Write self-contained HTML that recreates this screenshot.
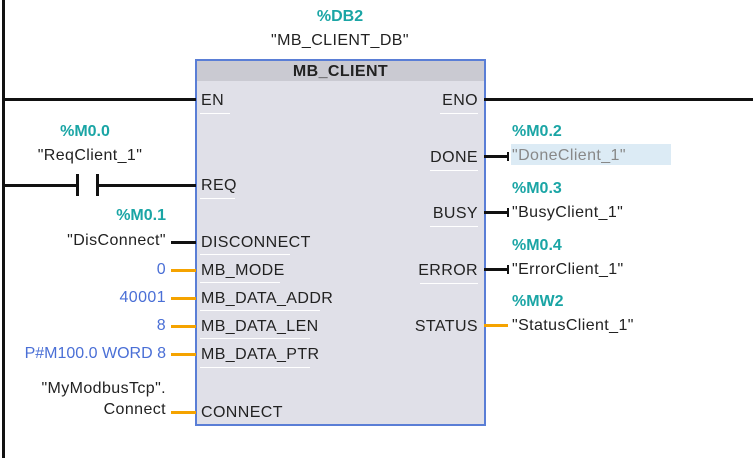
<!DOCTYPE html>
<html><head><style>
body{margin:0;width:753px;height:458px;background:#fff;position:relative;overflow:hidden;font-family:"Liberation Sans",sans-serif;font-size:16px;letter-spacing:0.4px;color:#222}
.a{position:absolute;white-space:nowrap;line-height:16px}
.t{color:#1aa5a5;font-weight:bold;letter-spacing:0}
.b{color:#4a6fd6}
.r{text-align:right}
.h{position:absolute;height:3px;background:#111}
.o{position:absolute;height:3px;background:#f5a300}
.u{position:absolute;height:1px;background:#fff}
</style></head><body>
<div style="position:absolute;left:2px;top:0;width:3px;height:458px;background:#111"></div>
<div style="position:absolute;left:195px;top:59px;width:287px;height:363px;border:2px solid #5a7ed6;background:#e0e0e8"></div>
<div style="position:absolute;left:197px;top:61px;width:287px;height:20px;background:#cacad2"></div>
<div class="a" style="left:197px;top:64px;width:287px;text-align:center;font-weight:bold">MB_CLIENT</div>
<div class="a t" style="left:300px;top:9px;width:80px;text-align:center">%DB2</div>
<div class="a" style="left:250px;top:33px;width:180px;text-align:center">"MB_CLIENT_DB"</div>
<div class="h" style="left:2px;top:98px;width:194px"></div>
<div class="h" style="left:484px;top:98px;width:269px"></div>
<div class="h" style="left:2px;top:184px;width:74px"></div>
<div style="position:absolute;left:76px;top:174px;width:3px;height:22px;background:#111"></div>
<div style="position:absolute;left:96px;top:174px;width:3px;height:22px;background:#111"></div>
<div class="h" style="left:96px;top:184px;width:100px"></div>
<div class="a t" style="left:40px;top:124px;width:90px;text-align:center">%M0.0</div>
<div class="a" style="left:10px;top:148px;width:160px;text-align:center">"ReqClient_1"</div>
<div class="a" style="left:201px;top:93px">EN</div>
<div class="a" style="left:201px;top:178px">REQ</div>
<div class="a" style="left:201px;top:235px">DISCONNECT</div>
<div class="a" style="left:201px;top:263px">MB_MODE</div>
<div class="a" style="left:201px;top:291px">MB_DATA_ADDR</div>
<div class="a" style="left:201px;top:319px">MB_DATA_LEN</div>
<div class="a" style="left:201px;top:347px">MB_DATA_PTR</div>
<div class="a" style="left:201px;top:405px">CONNECT</div>
<div class="u" style="left:200px;top:113px;width:30px"></div>
<div class="u" style="left:200px;top:198px;width:35px"></div>
<div class="u" style="left:200px;top:254px;width:90px"></div>
<div class="u" style="left:200px;top:282px;width:80px"></div>
<div class="u" style="left:200px;top:310px;width:120px"></div>
<div class="u" style="left:200px;top:338px;width:110px"></div>
<div class="u" style="left:200px;top:367px;width:110px"></div>
<div class="h" style="left:171px;top:241px;width:25px"></div>
<div class="o" style="left:171px;top:269px;width:25px"></div>
<div class="o" style="left:171px;top:297px;width:25px"></div>
<div class="o" style="left:171px;top:325px;width:25px"></div>
<div class="o" style="left:171px;top:353px;width:25px"></div>
<div class="o" style="left:171px;top:411px;width:25px"></div>
<div class="a t r" style="left:60px;top:208px;width:106px">%M0.1</div>
<div class="a r" style="left:0px;top:233px;width:166px">"DisConnect"</div>
<div class="a b r" style="left:60px;top:262px;width:106px">0</div>
<div class="a b r" style="left:60px;top:290px;width:106px">40001</div>
<div class="a b r" style="left:60px;top:318px;width:106px">8</div>
<div class="a b r" style="left:0px;top:346px;width:166px;letter-spacing:0">P#M100.0 WORD 8</div>
<div class="a r" style="left:0px;top:381px;width:166px">"MyModbusTcp".</div>
<div class="a r" style="left:0px;top:402px;width:166px">Connect</div>
<div class="a r" style="left:380px;top:93px;width:98px">ENO</div>
<div class="a r" style="left:380px;top:150px;width:98px">DONE</div>
<div class="a r" style="left:380px;top:206px;width:98px">BUSY</div>
<div class="a r" style="left:380px;top:263px;width:98px">ERROR</div>
<div class="a r" style="left:370px;top:319px;width:108px">STATUS</div>
<div class="u" style="left:440px;top:113px;width:38px"></div>
<div class="u" style="left:430px;top:170px;width:48px"></div>
<div class="u" style="left:430px;top:226px;width:48px"></div>
<div class="u" style="left:420px;top:283px;width:58px"></div>
<div style="position:absolute;left:511px;top:144px;width:160px;height:21px;background:#dcebf5"></div>
<div class="h" style="left:484px;top:155px;width:24px"></div><div style="position:absolute;left:507px;top:152px;width:2px;height:9px;background:#111"></div>
<div class="h" style="left:484px;top:211px;width:24px"></div><div style="position:absolute;left:507px;top:208px;width:2px;height:9px;background:#111"></div>
<div class="h" style="left:484px;top:268px;width:24px"></div><div style="position:absolute;left:507px;top:265px;width:2px;height:9px;background:#111"></div>
<div class="o" style="left:484px;top:324px;width:24px"></div>
<div class="a t" style="left:512px;top:124px">%M0.2</div>
<div class="a" style="left:512px;top:148px;color:#888">"DoneClient_1"</div>
<div class="a t" style="left:512px;top:181px">%M0.3</div>
<div class="a" style="left:512px;top:205px">"BusyClient_1"</div>
<div class="a t" style="left:512px;top:238px">%M0.4</div>
<div class="a" style="left:512px;top:262px">"ErrorClient_1"</div>
<div class="a t" style="left:512px;top:294px">%MW2</div>
<div class="a" style="left:512px;top:318px">"StatusClient_1"</div>
</body></html>
